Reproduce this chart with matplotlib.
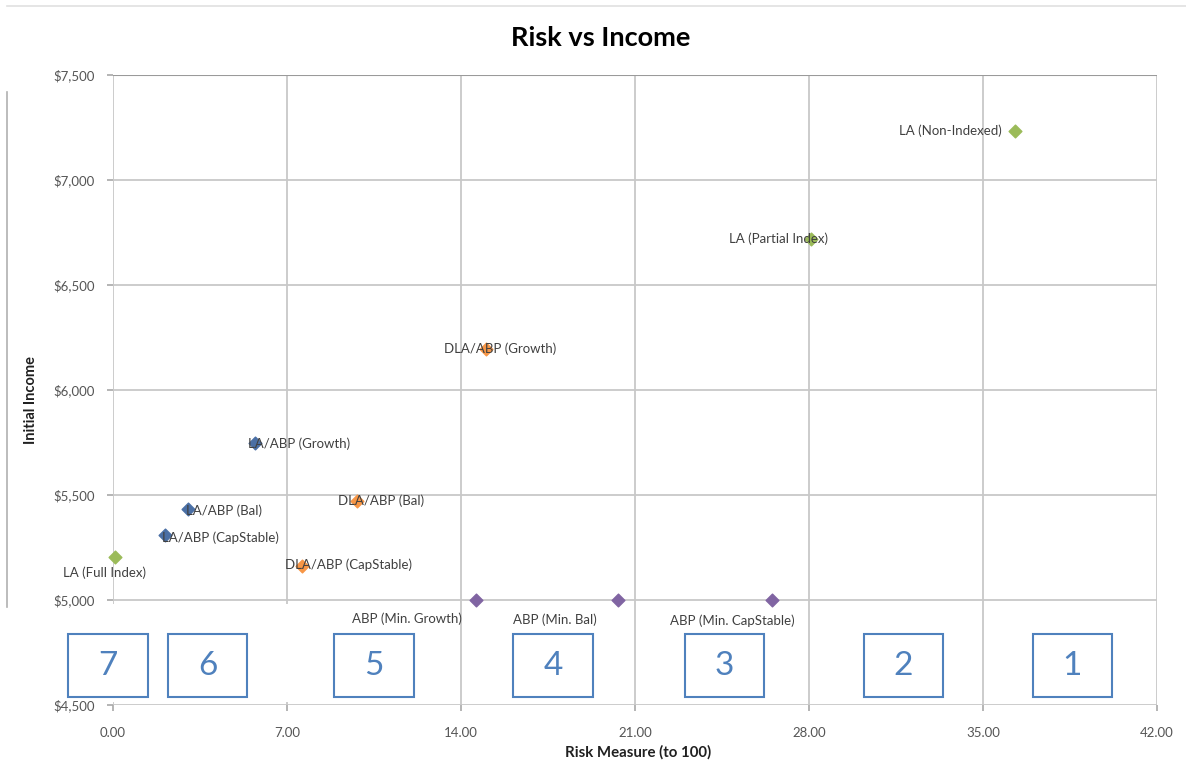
import matplotlib
matplotlib.use("Agg")
import matplotlib.pyplot as plt
from matplotlib.patches import Rectangle
from matplotlib.lines import Line2D

plt.rcParams['font.family'] = ['Lato', 'DejaVu Sans']

# ---- data ----
labels = ["LA (Non-Indexed)", "LA (Partial Index)", "LA (Full Index)",
          "DLA/ABP (Growth)", "DLA/ABP (Bal)", "DLA/ABP (CapStable)",
          "LA/ABP (Growth)", "LA/ABP (Bal)", "LA/ABP (CapStable)",
          "ABP (Min. Growth)", "ABP (Min. Bal)", "ABP (Min. CapStable)"]
risk = [36.3, 28.1, 0.1,
        15.0, 9.8, 7.6,
        5.7, 3.0, 2.1,
        14.6, 20.3, 26.5]
income = [7235, 6718, 5206,
          6197, 5472, 5164,
          5746, 5434, 5310,
          5000, 5000, 5000]
groups = ["LA", "LA", "LA",
          "DLA", "DLA", "DLA",
          "LAABP", "LAABP", "LAABP",
          "ABP", "ABP", "ABP"]
x_ticks = [0, 7, 14, 21, 28, 35, 42]
y_ticks = [4500, 5000, 5500, 6000, 6500, 7000, 7500]
zone_labels = ["7", "6", "5", "4", "3", "2", "1"]
zone_x = [-0.2, 3.8, 10.5, 17.7, 24.6, 31.8, 38.6]

# ---- style ----
colors = {"LA": "#9bbb59", "DLA": "#f79646", "LAABP": "#4a6fa5", "ABP": "#8064a2"}
px = 0.72
label_pos = [(-14, 0, 'right'), (17, 0, 'right'), (-11, -16, 'center'),
             (-42, 0, 'left'), (-19, 0, 'left'), (-17, 1, 'left'),
             (-7, 0, 'left'), (-2, -2, 'left'), (-3, -3, 'left'),
             (-14, -19, 'right'), (-21, -20, 'right'), (23, -21, 'right')]

fig = plt.figure(figsize=(11.86, 7.79), dpi=100)
ax = fig.add_axes([113/1186, 1-705/779, (1157-113)/1186, (705-75)/779])

ax.set_xlim(0, 42)
ax.set_ylim(4500, 7500)
ax.set_xticks(x_ticks)
ax.set_yticks(y_ticks)
ax.set_xticklabels([f"{v:.2f}" for v in x_ticks])
ax.set_yticklabels([f"${v:,.0f}" for v in y_ticks])
ax.tick_params(axis='both', labelsize=9.5, labelcolor="#555555", color="#a8a8a8",
               length=4, width=1.2)
ax.tick_params(axis='x', pad=12)
ax.tick_params(axis='y', pad=9)
for s in ax.spines.values():
    s.set_visible(False)
ax.grid(True, color="#c8c8c8", linewidth=1.3)
ax.set_axisbelow(True)
ax.axhline(7500, color="#9a9a9a", linewidth=1.5, zorder=1)

# white band hiding the left grid lines in the lower strip
ax.add_patch(Rectangle((-0.3, 4512), 13.9, 470, facecolor="white",
                       edgecolor="none", zorder=1.5, clip_on=False))

for xi, yi, g, lab, (dx, dy, ha) in zip(risk, income, groups, labels, label_pos):
    ax.scatter(xi, yi, marker='D', s=42, color=colors[g], zorder=3, clip_on=False)
    ax.annotate(lab, (xi, yi), xytext=(dx*px, dy*px), textcoords='offset points',
                ha=ha, va='center', fontsize=9.5, color="#404040", zorder=4,
                annotation_clip=False)

# numbered zone boxes
for zl, zx in zip(zone_labels, zone_x):
    ax.add_patch(Rectangle((zx - 1.6, 4540), 3.2, 300, facecolor="white",
                           edgecolor="#4f81bd", linewidth=1.5, zorder=5, clip_on=False))
    ax.text(zx, 4688, zl, ha='center', va='center', fontsize=24,
            color="#4f81bd", zorder=6)

fig.text(601/1186, 1-38/779, "Risk vs Income", ha='center', va='center',
         fontsize=19.5, fontweight='bold', color="#000000")
fig.text(638/1186, 1-752/779, "Risk Measure (to 100)", ha='center', va='center',
         fontsize=10.8, fontweight='bold', color="#202020")
fig.text(31/1186, 1-400/779, "Initial Income", ha='center', va='center',
         rotation=90, fontsize=10.5, fontweight='bold', color="#202020")

# thin frame lines from the original composite
fig.add_artist(Line2D([7/1186, 1], [1-6/779, 1-6/779], transform=fig.transFigure,
                      color="#e0e0e0", linewidth=1.2))
fig.add_artist(Line2D([7/1186, 7/1186], [1-92/779, 1-607/779], transform=fig.transFigure,
                      color="#b0b0b0", linewidth=1.2))

fig.savefig("out.png", dpi=100, facecolor="white")
